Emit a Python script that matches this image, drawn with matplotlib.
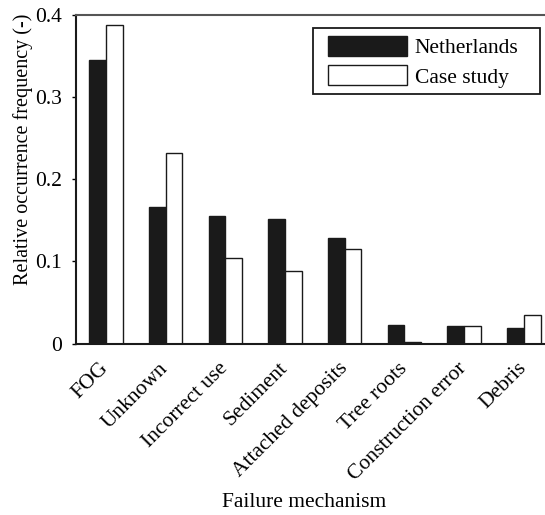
import numpy as np
import matplotlib
matplotlib.use('Agg')
import matplotlib.pyplot as plt
from matplotlib.patches import Rectangle

plt.rcParams['font.family'] = ['Liberation Serif', 'DejaVu Serif']
plt.rcParams['font.size'] = 15.5

mechanisms = ['FOG', 'Unknown', 'Incorrect use', 'Sediment', 'Attached deposits',
              'Tree roots', 'Construction error', 'Debris']
netherlands = [0.345, 0.166, 0.155, 0.151, 0.128, 0.023, 0.021, 0.019]
case_study = [0.388, 0.232, 0.104, 0.088, 0.115, 0.002, 0.021, 0.035]

fig = plt.figure(figsize=(5.45, 5.15), dpi=100)
# axes runs past the right edge of the figure, as in the original
ax = fig.add_axes([0.1394, 0.333, 0.8767, 0.6379])

x = np.arange(len(mechanisms))
w = 0.28
ax.bar(x - w / 2, netherlands, w, color='#1a1a1a', edgecolor='#1a1a1a', linewidth=1.0, label='Netherlands')
ax.bar(x + w / 2, case_study, w, color='white', edgecolor='#1a1a1a', linewidth=1.0, label='Case study')

ax.set_xlim(-0.5, 7.5)
ax.set_ylim(0, 0.4)
ax.set_yticks([0, 0.1, 0.2, 0.3, 0.4])
ax.set_yticklabels(['0', '0.1', '0.2', '0.3', '0.4'])
ax.set_xticks(x)
ax.set_xticklabels(mechanisms, rotation=45, ha='right', va='center', rotation_mode='anchor')
ax.tick_params(axis='x', length=0, pad=16)
ax.tick_params(axis='y', direction='out', length=3, width=1, pad=7)

for s in ['left', 'bottom']:
    ax.spines[s].set_linewidth(1.5)
    ax.spines[s].set_color('#1a1a1a')
ax.spines['top'].set_linewidth(1.5)
ax.spines['top'].set_color('#555555')
ax.spines['right'].set_visible(False)

ax.set_ylabel('Relative occurrence frequency (-)', fontsize=14.5)
ax.yaxis.set_label_coords(-0.09, 0.592)
ax.set_xlabel('Failure mechanism')
ax.xaxis.set_label_coords(0.477, -0.455)

# legend contents without frame, frame drawn as a box with extra room on the right
leg = ax.legend(loc='upper left', bbox_to_anchor=(0.5274, 0.936), frameon=False,
                handlelength=3.65, handleheight=1.04, borderpad=0, labelspacing=0.33,
                handletextpad=0.38, borderaxespad=0)
for p in leg.get_patches():
    p.set_edgecolor('#1a1a1a')
ax.add_patch(Rectangle((0.496, 0.7595), 0.4751, 0.2, transform=ax.transAxes,
                       fill=False, edgecolor='#1a1a1a', linewidth=1.3, zorder=5))

fig.savefig('out.png', dpi=100)
